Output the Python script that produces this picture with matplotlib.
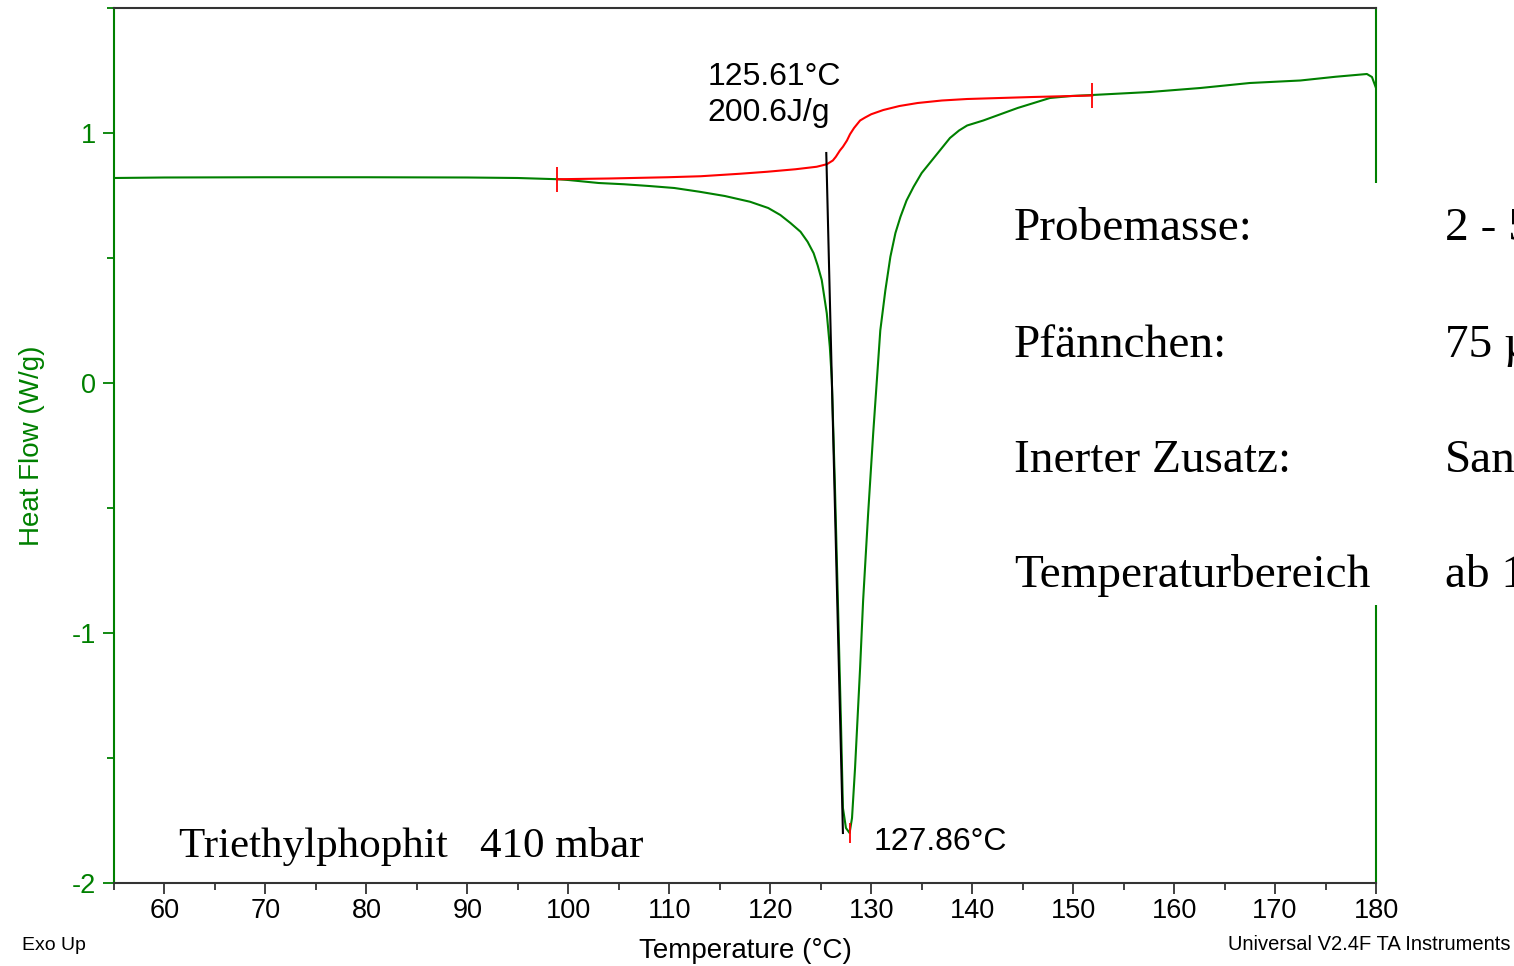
import matplotlib
matplotlib.use('Agg')
import matplotlib.pyplot as plt
from matplotlib.ticker import MultipleLocator

plt.rcParams['axes.unicode_minus'] = False
sans = 'Liberation Sans'
serif = 'Liberation Serif'

# heat flow curve (Temperature in °C, Heat Flow in W/g)
temp = [55.0, 60, 70, 80, 90, 95, 99, 100, 103, 105.5, 108, 110.5, 113, 115.5,
        118, 119.8, 121.0, 122.0, 123.0, 123.7, 124.3, 124.7, 125.1, 125.6,
        125.9, 126.1, 126.4, 126.7, 127.0, 127.2, 127.5, 127.86, 128.1, 128.4,
        128.9, 129.2, 129.7, 130.2, 130.9, 131.4, 131.9, 132.4, 132.9, 133.5,
        134.2, 135.0, 136.0, 137.0, 137.8, 138.7, 139.5, 141.1, 142.8, 144.5,
        146.1, 147.7, 149.8, 151.9, 157.6, 162.6, 167.5, 172.5, 176.0, 179.1,
        179.6, 180.0]
heat_flow = [0.820, 0.822, 0.823, 0.823, 0.822, 0.820, 0.815, 0.812, 0.800,
             0.795, 0.788, 0.780, 0.765, 0.748, 0.725, 0.700, 0.672, 0.64,
             0.605, 0.565, 0.519, 0.47, 0.412, 0.279, 0.145, 0.012, -0.40,
             -0.87, -1.35, -1.70, -1.78, -1.80, -1.74, -1.54, -1.14, -0.87,
             -0.52, -0.20, 0.21, 0.37, 0.505, 0.60, 0.665, 0.73, 0.785, 0.84,
             0.89, 0.94, 0.98, 1.01, 1.03, 1.05, 1.075, 1.10, 1.12, 1.14,
             1.148, 1.152, 1.164, 1.18, 1.20, 1.21, 1.225, 1.236, 1.224, 1.18]

# integration baseline (red)
base_t = [98.9, 104, 109.8, 113.1, 117, 119.7, 122.5, 124.6, 125.6, 126.2,
          126.5, 126.9, 127.2, 127.6, 127.9, 128.3, 128.6, 128.9, 129.4, 130.0,
          131.2, 132.8, 134.6, 137.0, 139.5, 146.0, 151.9]
base_hf = [0.815, 0.818, 0.823, 0.827, 0.837, 0.845, 0.855, 0.865, 0.875, 0.89,
           0.905, 0.93, 0.945, 0.97, 0.995, 1.02, 1.035, 1.05, 1.062, 1.075,
           1.092, 1.108, 1.12, 1.13, 1.136, 1.144, 1.150]

# limits of integration and peak marker
limit_t = [98.9, 151.9]
limit_hf = [0.815, 1.150]
peak_t = 127.86
peak_hf = -1.80

# onset tangent line
onset_t = [125.55, 127.2]
onset_hf = [0.92, -1.80]

info_labels = ['Probemasse:', 'Pfännchen:', 'Inerter Zusatz:', 'Temperaturbereich']
info_values = ['2 - 5 mg', '75 µl', 'Sand', 'ab 100 °C']

green = '#008000'
dark = '#333333'

fig = plt.figure(figsize=(15.14, 9.66), dpi=100)
ax = fig.add_axes([114 / 1514, 83 / 966, 1262 / 1514, 875 / 966])

ax.plot(temp, heat_flow, color=green, lw=1.5)
ax.plot(base_t, base_hf, color='red', lw=1.5)
ax.vlines(limit_t, [v - 0.05 for v in limit_hf], [v + 0.05 for v in limit_hf],
          color='red', lw=1.3)
ax.vlines([peak_t], [peak_hf - 0.04], [peak_hf + 0.04], color='red', lw=1.3)
ax.plot(onset_t, onset_hf, color='black', lw=1.5)

ax.set_xlim(55, 180)
ax.set_ylim(-2, 1.5)
ax.xaxis.set_major_locator(MultipleLocator(10))
ax.xaxis.set_minor_locator(MultipleLocator(5))
ax.yaxis.set_major_locator(MultipleLocator(1))
ax.yaxis.set_minor_locator(MultipleLocator(0.5))
ax.set_xticks(range(60, 181, 10))

ax.tick_params(axis='x', which='major', direction='out', length=8, width=1.3,
               color=dark, labelsize=19.5, pad=3)
ax.tick_params(axis='x', which='minor', direction='out', length=5, width=1.3,
               color=dark)
ax.tick_params(axis='y', which='major', direction='out', length=8, width=1.3,
               color=green, labelcolor=green, labelsize=19.5, pad=5)
ax.tick_params(axis='y', which='minor', direction='out', length=5, width=1.3,
               color=green)
for lab in ax.get_xticklabels() + ax.get_yticklabels():
    lab.set_family(sans)

ax.spines['left'].set_color(green)
ax.spines['right'].set_color(green)
ax.spines['top'].set_color(dark)
ax.spines['bottom'].set_color(dark)
for s in ax.spines.values():
    s.set_linewidth(1.5)

ax.set_xlabel('Temperature (°C)', family=sans, fontsize=20, labelpad=10)
ax.set_ylabel('Heat Flow (W/g)', family=sans, fontsize=20, color=green,
              labelpad=19)

# annotations
ax.text(113.76, 1.224, '125.61°C', family=sans, fontsize=23, va='center')
ax.text(113.76, 1.08, '200.6J/g', family=sans, fontsize=23, va='center')
ax.text(130.2, -1.836, '127.86°C', family=sans, fontsize=23, va='center')
ax.text(61.4, -1.896, 'Triethylphophit   410 mbar', family=serif, fontsize=31,
        va='baseline')

fig.text(22 / 1514, 1 - 945 / 966, 'Exo Up', family=sans, fontsize=14, va='center')
fig.text(1510 / 1514, 1 - 945 / 966, 'Universal V2.4F TA Instruments',
         family=sans, fontsize=14.5, va='center', ha='right')

# white info box lying over the right side of the plot
box = fig.add_axes([1000 / 1514, (966 - 605) / 966, 514 / 1514, 422 / 966])
box.set_facecolor('white')
box.set_xticks([])
box.set_yticks([])
for s in box.spines.values():
    s.set_visible(False)

rows_y = [240, 357, 472, 587]
for lab, val, py in zip(info_labels, info_values, rows_y):
    fig.text(1014 / 1514, 1 - py / 966, lab, family=serif, fontsize=34,
             va='baseline')
    fig.text(1445 / 1514, 1 - py / 966, val, family=serif, fontsize=34,
             va='baseline')

fig.savefig('out.png', dpi=100)
